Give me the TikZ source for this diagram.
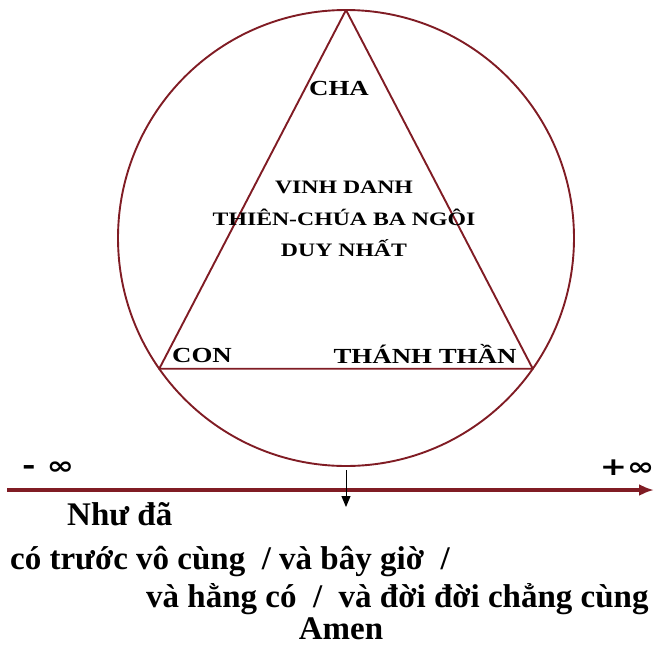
\documentclass[tikz,border=0pt]{standalone}
\usepackage{fontspec}
\setmainfont{Liberation Serif}
\newfontfamily\rong[FakeStretch=1.25]{Liberation Serif}
\newfontfamily\vc[FakeStretch=1.3]{DejaVu Sans}
\usetikzlibrary{arrows.meta,positioning}
\definecolor{doson}{RGB}{128,28,36}
\tikzset{
  vien/.style={draw=doson,line width=1.9pt},
  truc/.style={draw=doson,line width=3.4pt,-{Latex[length=15pt,width=12pt]}},
  muiten/.style={draw=black,line width=1pt,-{Triangle[length=11pt,width=9pt]}},
  nhan/.style={inner sep=0pt,font=\rong\bfseries\fontsize{21.5}{31}\selectfont,align=center},
  giua/.style={inner sep=0pt,font=\rong\bfseries\fontsize{19}{31.5}\selectfont,align=center},
  dong/.style={inner sep=0pt,anchor=west,font=\bfseries\fontsize{33}{38}\selectfont},
  vocung/.style={inner sep=0pt,font=\vc\bfseries\fontsize{25}{28}\selectfont},
}

\begin{document}
\begin{tikzpicture}[x=1pt,y=-1pt]
  \useasboundingbox (0,0) rectangle (654,651);
  % vong tron va tam giac
  \node[vien,circle,minimum size=456pt,inner sep=0pt,outer sep=0pt] (vong) at (346,238) {};
  \draw[vien,line join=round] (vong.north) -- (vong.215) -- (vong.325) -- cycle;
  \node[nhan] (cha) at (339,88) {CHA};
  \node[giua] (loi) at (344,219) {VINH DANH\\THIÊN-CHÚA BA NGÔI\\DUY NHẤT};
  \node[nhan] (con) at (202,355) {CON};
  \node[nhan] (thanhthan) at (425,354) {THÁNH THẦN};
  % truc thoi gian
  \coordinate (tructrai) at (7,490);
  \coordinate (trucphai) at (654,490);
  \draw[truc] (tructrai) -- (trucphai);
  \node[vocung] (am) at (48,468) {- ∞};
  \node[vocung] (duong) at (627,468) {+∞};
  \coordinate (mui) at (346,507);
  \draw[muiten] ([yshift=-4pt]vong.south) -- (mui);
  % loi kinh
  \node[dong] (nhuda) at (67,514) {Như đã};
  \node[dong] (dong1) at (10,562) {có trước vô cùng \ / và bây giờ \ /};
  \node[dong] (dong2) at (146,599) {và hằng có \ / \ và đời đời chẳng cùng};
  \node[dong,anchor=center] (amen) at (341,629) {Amen};
\end{tikzpicture}
\end{document}
